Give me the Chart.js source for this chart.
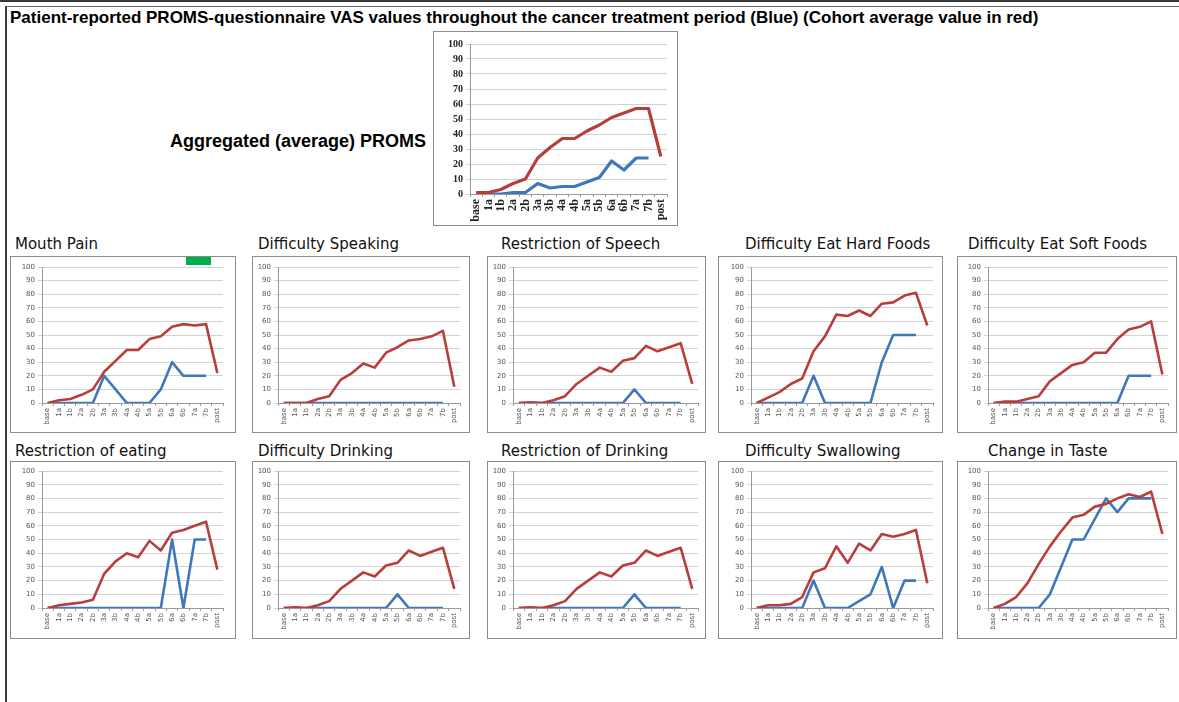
<!DOCTYPE html>
<html lang="en">
<head>
  <meta charset="UTF-8" />
  <title>PROMS VAS values</title>
  <script src="https://cdn.jsdelivr.net/npm/chart.js"></script>
  <style>
    body { margin: 0; width: 1179px; height: 702px; position: relative; overflow: hidden; background: #fff; font-family: "Liberation Sans", Arial, sans-serif; }
    .topline { position: absolute; left: 0; top: 0; width: 1179px; height: 2px; background: #3a3a3a; }
    .frame { position: absolute; left: 5px; top: 6px; width: 1190px; height: 710px; border-left: 2px solid #3a3a3a; border-top: 1px solid #666; }
    h1 { position: absolute; left: 10px; top: 8px; margin: 0; font-size: 17px; font-weight: bold; line-height: 20px; white-space: nowrap; color: #000; }
    .agg { position: absolute; left: 170px; top: 130px; font-size: 18px; font-weight: bold; line-height: 22px; white-space: nowrap; }
    .box { position: absolute; box-sizing: border-box; border: 1px solid #8c8c8c; }
    .box canvas { position: absolute; left: -1px; top: -1px; }
    .ctitle { position: absolute; font-family: "DejaVu Sans", sans-serif; font-size: 15px; line-height: 18px; white-space: nowrap; color: #111; }
    .green { position: absolute; left: 186px; top: 257px; width: 25px; height: 8px; background: #00b050; }
  </style>
</head>
<body>
  <div class="topline"></div>
  <div class="frame"></div>
  <h1>Patient-reported PROMS-questionnaire VAS values throughout the cancer treatment period (Blue) (Cohort average value in red)</h1>
  <div class="agg">Aggregated (average) PROMS</div>
  <div id="charts"></div>
  <div class="green"></div>

  <script>
    // time points
    const periods = ["base", "1a", "1b", "2a", "2b", "3a", "3b", "4a", "4b", "5a", "5b", "6a", "6b", "7a", "7b", "post"];

    // blue = patient (no value at post), red = cohort average
    const aggPatient = [0, 0, 0, 1, 1, 7, 4, 5, 5, 8, 11, 22, 16, 24, 24];
    const aggCohort = [1, 1, 3, 7, 10, 24, 31, 37, 37, 42, 46, 51, 54, 57, 57, 25];

    const mouthPainPatient = [0, 0, 0, 0, 0, 20, 10, 0, 0, 0, 10, 30, 20, 20, 20];
    const mouthPainCohort = [0, 2, 3, 6, 10, 23, 31, 39, 39, 47, 49, 56, 58, 57, 58, 22];

    const speakingPatient = [0, 0, 0, 0, 0, 0, 0, 0, 0, 0, 0, 0, 0, 0, 0];
    const speakingCohort = [0, 0, 0, 3, 5, 17, 22, 29, 26, 37, 41, 46, 47, 49, 53, 12];

    const speechPatient = [0, 0, 0, 0, 0, 0, 0, 0, 0, 0, 10, 0, 0, 0, 0];
    const speechCohort = [0, 0.5, 0, 2, 5, 14, 20, 26, 23, 31, 33, 42, 38, 41, 44, 14];

    const hardFoodsPatient = [0, 0, 0, 0, 0, 20, 0, 0, 0, 0, 0, 30, 50, 50, 50];
    const hardFoodsCohort = [0, 4, 8, 14, 18, 38, 49, 65, 64, 68, 64, 73, 74, 79, 81, 57];

    const softFoodsPatient = [0, 0, 0, 0, 0, 0, 0, 0, 0, 0, 0, 0, 20, 20, 20];
    const softFoodsCohort = [0, 1, 1, 3, 5, 16, 22, 28, 30, 37, 37, 47, 54, 56, 60, 21];

    const eatingPatient = [0, 0, 0, 0, 0, 0, 0, 0, 0, 0, 0, 50, 0, 50, 50];
    const eatingCohort = [0, 2, 3, 4, 6, 25, 34, 40, 37, 49, 42, 55, 57, 60, 63, 28];

    const drinkingPatient = [0, 0, 0, 0, 0, 0, 0, 0, 0, 0, 10, 0, 0, 0, 0];
    const drinkingCohort = [0, 0.5, 0, 2, 5, 14, 20, 26, 23, 31, 33, 42, 38, 41, 44, 14];

    const restrictDrinkPatient = [0, 0, 0, 0, 0, 0, 0, 0, 0, 0, 10, 0, 0, 0, 0];
    const restrictDrinkCohort = [0, 0.5, 0, 2, 5, 14, 20, 26, 23, 31, 33, 42, 38, 41, 44, 14];

    const swallowPatient = [0, 0, 0, 0, 0, 20, 0, 0, 0, 5, 10, 30, 0, 20, 20];
    const swallowCohort = [0, 2, 2, 3, 8, 26, 29, 45, 33, 47, 42, 54, 52, 54, 57, 18];

    const tastePatient = [0, 0, 0, 0, 0, 10, 30, 50, 50, 65, 80, 70, 80, 80, 80];
    const tasteCohort = [0, 3, 8, 18, 32, 45, 56, 66, 68, 74, 76, 80, 83, 81, 85, 54];

    const BLUE = "#3f77bc";
    const RED = "#b83e3b";

    // box / plot-area geometry in page pixels
    const cols = [
      { boxL: 10, boxR: 236, gridL: 42, gridR: 223 },
      { boxL: 252, boxR: 470, gridL: 278, gridR: 460 },
      { boxL: 487, boxR: 706, gridL: 513, gridR: 698 },
      { boxL: 718, boxR: 943, gridL: 751, gridR: 933 },
      { boxL: 957, boxR: 1177, gridL: 988, gridR: 1168 }
    ];
    const rows = [
      { boxT: 256, boxB: 433, plotT: 267, plotB: 403, titleT: 235 },
      { boxT: 461, boxB: 639, plotT: 471, plotB: 608, titleT: 442 }
    ];

    const small = [
      { title: "Mouth Pain", tx: 15, patient: mouthPainPatient, cohort: mouthPainCohort },
      { title: "Difficulty Speaking", tx: 258, patient: speakingPatient, cohort: speakingCohort },
      { title: "Restriction of Speech", tx: 501, patient: speechPatient, cohort: speechCohort },
      { title: "Difficulty Eat Hard Foods", tx: 745, patient: hardFoodsPatient, cohort: hardFoodsCohort },
      { title: "Difficulty Eat Soft Foods", tx: 968, patient: softFoodsPatient, cohort: softFoodsCohort },
      { title: "Restriction of eating", tx: 15, patient: eatingPatient, cohort: eatingCohort },
      { title: "Difficulty Drinking", tx: 258, patient: drinkingPatient, cohort: drinkingCohort },
      { title: "Restriction of Drinking", tx: 501, patient: restrictDrinkPatient, cohort: restrictDrinkCohort },
      { title: "Difficulty Swallowing", tx: 745, patient: swallowPatient, cohort: swallowCohort },
      { title: "Change in Taste", tx: 988, patient: tastePatient, cohort: tasteCohort }
    ];

    const holder = document.getElementById("charts");

    function makeChart(box, plot, patient, cohort, look) {
      const div = document.createElement("div");
      div.className = "box";
      const w = box.r - box.l, h = box.b - box.t;
      div.style.left = box.l + "px";
      div.style.top = box.t + "px";
      div.style.width = w + "px";
      div.style.height = h + "px";
      const canvas = document.createElement("canvas");
      canvas.width = w;
      canvas.height = h;
      div.appendChild(canvas);
      holder.appendChild(div);

      new Chart(canvas, {
        type: "line",
        data: {
          labels: periods,
          datasets: [
            { data: cohort, borderColor: RED, borderWidth: look.lw },
            { data: patient, borderColor: BLUE, borderWidth: look.lw }
          ]
        },
        options: {
          responsive: false,
          animation: false,
          events: [],
          layout: { padding: { top: plot.t - box.t, right: box.r - plot.r, left: 0, bottom: 0 } },
          elements: {
            point: { radius: 0 },
            line: { tension: 0, borderJoinStyle: "round", borderCapStyle: "butt" }
          },
          plugins: { legend: { display: false }, tooltip: { enabled: false } },
          scales: {
            x: {
              offset: true,
              grid: { offset: true, drawOnChartArea: false, tickLength: 3, color: "#9a9a9a" },
              border: { color: "#9a9a9a" },
              ticks: { autoSkip: false, maxRotation: 90, minRotation: 90, padding: 2, font: look.xFont, color: look.tickColor },
              afterFit: s => { s.height = box.b - plot.b; }
            },
            y: {
              min: 0,
              max: 100,
              ticks: { stepSize: 10, autoSkip: false, padding: 3, font: look.yFont, color: look.tickColor },
              grid: { color: "#d2d2d2", tickLength: 4 },
              border: { color: "#9a9a9a" },
              afterFit: s => { s.width = plot.l - box.l; }
            }
          }
        }
      });
    }

    const smallLook = {
      lw: 2.6,
      tickColor: "#555",
      xFont: { family: "DejaVu Sans", size: 7 },
      yFont: { family: "DejaVu Sans", size: 7 }
    };
    const aggLook = {
      lw: 3.2,
      tickColor: "#222",
      xFont: { family: "Liberation Serif", size: 12, weight: "bold" },
      yFont: { family: "Liberation Serif", size: 10, weight: "bold" }
    };

    // aggregated chart on top
    makeChart({ l: 433, r: 678, t: 31, b: 226 }, { l: 470, r: 667, t: 44, b: 194 }, aggPatient, aggCohort, aggLook);

    small.forEach((c, i) => {
      const col = cols[i % 5], row = rows[Math.floor(i / 5)];
      const t = document.createElement("div");
      t.className = "ctitle";
      t.textContent = c.title;
      t.style.left = c.tx + "px";
      t.style.top = row.titleT + "px";
      holder.appendChild(t);
      makeChart(
        { l: col.boxL, r: col.boxR, t: row.boxT, b: row.boxB },
        { l: col.gridL, r: col.gridR, t: row.plotT, b: row.plotB },
        c.patient, c.cohort, smallLook
      );
    });
  </script>
</body>
</html>
